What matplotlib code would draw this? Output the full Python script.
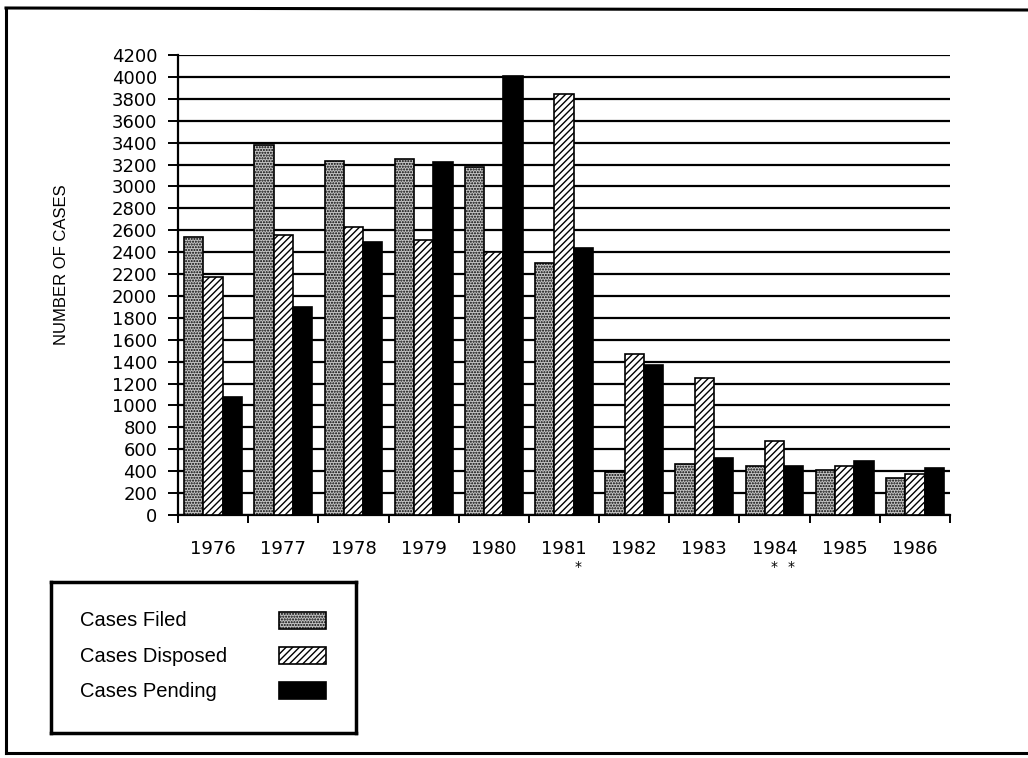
import numpy as np
import matplotlib.pyplot as plt
from matplotlib.patches import Rectangle
from matplotlib.lines import Line2D

years = ["1976", "1977", "1978", "1979", "1980", "1981",
         "1982", "1983", "1984", "1985", "1986"]
filed = [2540, 3380, 3230, 3250, 3180, 2300, 395, 470, 450, 410, 335]
disposed = [2170, 2560, 2630, 2510, 2400, 3840, 1470, 1250, 680, 450, 370]
pending = [1080, 1900, 2490, 3220, 4010, 2440, 1370, 520, 450, 490, 430]
series_names = ["Cases Filed", "Cases Disposed", "Cases Pending"]

plt.rcParams["hatch.linewidth"] = 1.0

fig = plt.figure(figsize=(10.28, 7.58), dpi=100)
W, H = 1028, 758


def fx(px):
    return px / W


def fy(py):
    return 1 - py / H


ax = fig.add_axes([fx(178), fy(515), fx(950) - fx(178), fy(55) - fy(515)])

styles = [
    dict(facecolor="#c4c4c4", hatch="......", edgecolor="black"),
    dict(facecolor="white", hatch="/////", edgecolor="black"),
    dict(facecolor="black", hatch=None, edgecolor="black"),
]

x = np.arange(len(years))
bw = 0.275
for i, vals in enumerate([filed, disposed, pending]):
    ax.bar(x + (i - 1) * bw, vals, width=bw, linewidth=1.2, zorder=3,
           **styles[i])

ax.set_xlim(-0.5, len(years) - 0.5)
ax.set_ylim(0, 4200)
ax.set_yticks(np.arange(0, 4201, 200))
ax.yaxis.grid(True, color="black", linewidth=1.6)
ax.set_axisbelow(True)

ax.set_xticks(x)
ax.set_xticklabels(years)
ax.set_xticks(np.arange(-0.5, len(years), 1.0), minor=True)
ax.tick_params(axis="x", which="major", length=0, pad=18, labelsize=13)
ax.tick_params(axis="x", which="minor", length=6, width=1.4, direction="out")
ax.tick_params(axis="y", length=7, width=1.4, direction="out", pad=8,
               labelsize=13)

for s in ["top", "right"]:
    ax.spines[s].set_visible(False)
for s in ["left", "bottom"]:
    ax.spines[s].set_linewidth(1.6)

# footnote marks under the year labels
xt = ax.get_xaxis_transform()
for xpos in [5.2, 8.0, 8.23]:
    ax.text(xpos, -0.112, "*", transform=xt, ha="center", va="center",
            fontsize=10)

fig.text(fx(62), fy(265), "NUMBER OF CASES", rotation=90, ha="center",
         va="center", fontsize=12, family="Liberation Sans")

# legend box
lax = fig.add_axes([fx(51), fy(733), fx(356) - fx(51), fy(582) - fy(733)])
lax.set_xlim(51, 356)
lax.set_ylim(733, 582)
lax.set_xticks([])
lax.set_yticks([])
for s in lax.spines.values():
    s.set_linewidth(2.5)
text_y = [621, 656, 691]
for i, name in enumerate(series_names):
    lax.text(80, text_y[i], name, ha="left", va="center", fontsize=14.5,
             family="Liberation Sans")
    st = styles[i]
    lax.add_patch(Rectangle((279, text_y[i] - 9), 47, 17, linewidth=1.2,
                            **st))

# outer frame
fig.add_artist(Line2D([fx(6), fx(6)], [fy(8), fy(753)], color="black",
                      linewidth=2.2))
fig.add_artist(Line2D([fx(6), 1], [fy(8), fy(10)], color="black",
                      linewidth=2.2))
fig.add_artist(Line2D([fx(6), 1], [fy(753), fy(753)], color="black",
                      linewidth=2.2))

fig.savefig("out.png", dpi=100)
